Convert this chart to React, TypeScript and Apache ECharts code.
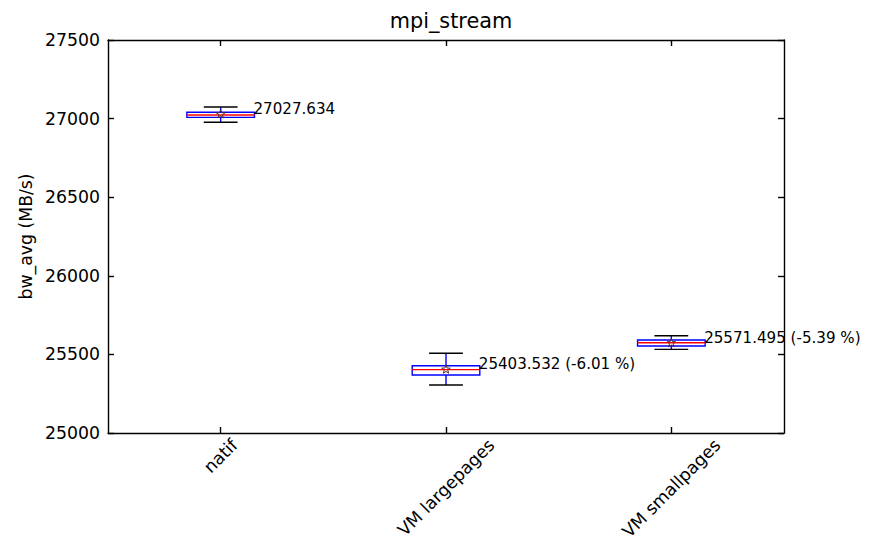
import React, { useEffect, useRef } from "react";
import * as echarts from "echarts";

const categories = ["natif", "VM largepages", "VM smallpages"];
const whiskerLow = [26977, 25305, 25532];
const q1 = [27008, 25369, 25553];
const median = [27023, 25403, 25574];
const q3 = [27040, 25428, 25592];
const whiskerHigh = [27074, 25507, 25619];
const means = [27027.634, 25403.532, 25571.495];
const meanLabels = ["27027.634", "25403.532 (-6.01 %)", "25571.495 (-5.39 %)"];
const yMin = 25000;
const yMax = 27500;
const yStep = 500;

const FONT = "DejaVu Sans";
const TICK_FS = 17.3;
const ANNOT_FS = 15.1;
const TITLE_FS = 20.8;

let measureCtx: CanvasRenderingContext2D | null = null;
function measure(text: string, fs: number): number {
  if (!measureCtx) {
    const c = document.createElement("canvas");
    measureCtx = c.getContext("2d");
  }
  if (!measureCtx) return text.length * fs * 0.6;
  measureCtx.font = `${fs}px "${FONT}"`;
  return measureCtx.measureText(text).width;
}

function starPoints(cx: number, cy: number, R: number, r: number): number[][] {
  const pts: number[][] = [];
  for (let k = 0; k < 10; k++) {
    const ang = -Math.PI / 2 + (k * Math.PI) / 5;
    const rad = k % 2 === 0 ? R : r;
    pts.push([cx + rad * Math.cos(ang), cy + rad * Math.sin(ang)]);
  }
  return pts;
}

export default function App() {
  const ref = useRef<HTMLDivElement>(null);
  useEffect(() => {
    if (!ref.current) return;
    const chart = echarts.init(ref.current, null, { renderer: "svg" });
    const data = categories.map((_, i) => [
      i,
      whiskerLow[i],
      q1[i],
      median[i],
      q3[i],
      whiskerHigh[i],
      means[i],
    ]);
    const lw = 1.4;
    const axisLineStyle = { color: "#000", width: lw };
    const option: any = {
      animation: false,
      backgroundColor: "#fff",
      title: {
        text: "mpi_stream",
        left: 446,
        textAlign: "center",
        top: 5,
        textStyle: {
          fontFamily: FONT,
          fontSize: TITLE_FS,
          fontWeight: "normal",
          color: "#000",
        },
      },
      grid: { left: 108, right: 88, top: 40, bottom: 108, containLabel: false },
      xAxis: [
        {
          type: "category",
          data: categories,
          position: "bottom",
          boundaryGap: true,
          axisLine: { show: true, lineStyle: axisLineStyle },
          axisTick: { show: true, inside: true, alignWithLabel: true, length: 6, lineStyle: { color: "#000", width: lw } },
          axisLabel: { show: false },
          splitLine: { show: false },
        },
        {
          type: "category",
          data: categories,
          position: "top",
          boundaryGap: true,
          axisLine: { show: true, lineStyle: axisLineStyle },
          axisTick: { show: true, inside: true, alignWithLabel: true, length: 6, lineStyle: { color: "#000", width: lw } },
          axisLabel: { show: false },
          splitLine: { show: false },
        },
      ],
      yAxis: [
        {
          type: "value",
          min: yMin,
          max: yMax,
          interval: yStep,
          position: "left",
          name: "bw_avg (MB/s)",
          nameLocation: "middle",
          nameGap: 62,
          nameTextStyle: { fontFamily: FONT, fontSize: TICK_FS, color: "#000" },
          axisLine: { show: true, lineStyle: axisLineStyle },
          axisTick: { show: true, inside: true, length: 6, lineStyle: { color: "#000", width: lw } },
          axisLabel: {
            fontFamily: FONT,
            fontSize: TICK_FS,
            color: "#000",
            margin: 8,
            formatter: (v: number) => String(v),
          },
          splitLine: { show: false },
        },
        {
          type: "value",
          min: yMin,
          max: yMax,
          interval: yStep,
          position: "right",
          axisLine: { show: true, lineStyle: axisLineStyle },
          axisTick: { show: true, inside: true, length: 6, lineStyle: { color: "#000", width: lw } },
          axisLabel: { show: false },
          splitLine: { show: false },
        },
      ],
      series: [
        {
          type: "custom",
          xAxisIndex: 0,
          yAxisIndex: 0,
          data,
          clip: false,
          renderItem: (params: any, api: any) => {
            const i = api.value(0);
            const band = api.size([1, 0])[0];
            const cx = api.coord([i, yMin])[0];
            const yv = (v: number) => api.coord([i, v])[1];
            const hw = band * 0.15;
            const cw = band * 0.075;
            const low = api.value(1);
            const b1 = api.value(2);
            const med = api.value(3);
            const b3 = api.value(4);
            const high = api.value(5);
            const mean = api.value(6);
            const cs = params.coordSys;
            const bottomY = cs.y + cs.height;
            const label = categories[i];
            const w = measure(label, TICK_FS);
            const h = TICK_FS * 1.0;
            const off = 3 + (w + h) / (2 * Math.SQRT2);
            const my = yv(mean);
            return {
              type: "group",
              children: [
                { type: "line", shape: { x1: cx, y1: yv(high), x2: cx, y2: yv(b3) }, style: { stroke: "#0000ff", lineWidth: lw } },
                { type: "line", shape: { x1: cx, y1: yv(b1), x2: cx, y2: yv(low) }, style: { stroke: "#0000ff", lineWidth: lw } },
                { type: "line", shape: { x1: cx - cw, y1: yv(high), x2: cx + cw, y2: yv(high) }, style: { stroke: "#000", lineWidth: lw } },
                { type: "line", shape: { x1: cx - cw, y1: yv(low), x2: cx + cw, y2: yv(low) }, style: { stroke: "#000", lineWidth: lw } },
                { type: "rect", shape: { x: cx - hw, y: yv(b3), width: 2 * hw, height: yv(b1) - yv(b3) }, style: { stroke: "#0000ff", fill: "none", lineWidth: lw } },
                { type: "line", shape: { x1: cx - hw, y1: yv(med), x2: cx + hw, y2: yv(med) }, style: { stroke: "#ff0000", lineWidth: lw } },
                { type: "polygon", shape: { points: starPoints(cx, my, 4.5, 1.9) }, style: { stroke: "#5a2a2a", fill: "none", lineWidth: 1 } },
                {
                  type: "text",
                  x: cx + band * 0.15 - 1,
                  y: my + 2,
                  style: { text: meanLabels[i], fontFamily: FONT, fontSize: ANNOT_FS, fill: "#000", align: "left", verticalAlign: "bottom" },
                },
                {
                  type: "text",
                  x: cx,
                  y: bottomY + off,
                  rotation: Math.PI / 4,
                  style: { text: label, fontFamily: FONT, fontSize: TICK_FS, fill: "#000", align: "center", verticalAlign: "middle" },
                },
              ],
            };
          },
        },
      ],
    };
    chart.setOption(option);
    return () => chart.dispose();
  }, []);
  return <div ref={ref} style={{ width: 872, height: 541, position: "absolute", left: 0, top: 0 }} />;
}
